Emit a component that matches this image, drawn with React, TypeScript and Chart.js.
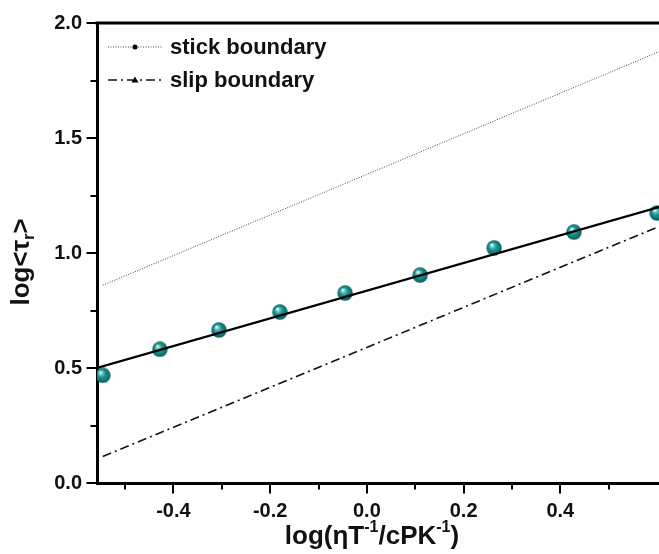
import React, { useEffect, useRef } from "react";
import { Chart, registerables } from "chart.js";

Chart.register(...registerables);

// ---- data ----
const logEtaT = [-0.546, -0.428, -0.306, -0.18, -0.045, 0.11, 0.263, 0.428, 0.6];
const logTau = [0.468, 0.581, 0.665, 0.743, 0.826, 0.904, 1.022, 1.091, 1.174];
const fitX = [-0.558, 0.604];
const fitY = [0.5, 1.2];
const stickX = [-0.546, 0.604];
const stickY = [0.86, 1.875];
const slipX = [-0.546, 0.604];
const slipY = [0.115, 1.115];
const xTicks = [-0.5, -0.4, -0.3, -0.2, -0.1, 0.0, 0.1, 0.2, 0.3, 0.4, 0.5];
const yTicks = [0, 0.25, 0.5, 0.75, 1.0, 1.25, 1.5, 1.75, 2.0];
const legendLabels = ["stick boundary", "slip boundary"];
const xMin = -0.558;
const xMax = 0.604;
const yMin = 0;
const yMax = 2.0;

const FONT = "'Liberation Sans', Arial, Helvetica, sans-serif";

function makeSphere(): HTMLCanvasElement {
  const c = document.createElement("canvas");
  const s = 16;
  c.width = s;
  c.height = s;
  const g = c.getContext("2d")!;
  const grad = g.createRadialGradient(5.5, 4.8, 0.3, 8, 8, 8);
  grad.addColorStop(0, "#f2ffff");
  grad.addColorStop(0.18, "#7fd0cf");
  grad.addColorStop(0.45, "#1f9591");
  grad.addColorStop(0.85, "#0f6d6b");
  grad.addColorStop(1, "#0b5857");
  g.fillStyle = grad;
  g.beginPath();
  g.arc(8, 8, 7.7, 0, Math.PI * 2);
  g.fill();
  return c;
}

const toPts = (xs: number[], ys: number[]) => xs.map((x, i) => ({ x, y: ys[i] }));

const decorPlugin = {
  id: "decor",
  afterDraw(chart: any) {
    const ctx = chart.ctx as CanvasRenderingContext2D;
    const ca = chart.chartArea;
    const xs = chart.scales.x;
    const ys = chart.scales.y;
    ctx.save();
    // top frame line
    ctx.strokeStyle = "#000";
    ctx.lineWidth = 3;
    ctx.beginPath();
    ctx.moveTo(ca.left - 1.5, ca.top);
    ctx.lineTo(chart.width, ca.top);
    ctx.stroke();
    // ticks (outward)
    ctx.lineWidth = 2;
    xs.ticks.forEach((t: any) => {
      const major = Math.round(t.value * 10) % 2 === 0;
      const len = major ? 9 : 5;
      const px = Math.round(xs.getPixelForValue(t.value));
      ctx.beginPath();
      ctx.moveTo(px, ca.bottom);
      ctx.lineTo(px, ca.bottom + 1.5 + len);
      ctx.stroke();
    });
    ys.ticks.forEach((t: any) => {
      const major = Math.abs(Math.round(t.value * 4) % 2) === 0;
      const len = major ? 9 : 5;
      const py = Math.round(ys.getPixelForValue(t.value));
      ctx.beginPath();
      ctx.moveTo(ca.left, py);
      ctx.lineTo(ca.left - 1.5 - len, py);
      ctx.stroke();
    });

    // axis titles with super/subscripts
    ctx.fillStyle = "#111";
    const big = `bold 26px ${FONT}`;
    const small = `bold 16px ${FONT}`;
    const drawRich = (parts: { t: string; s?: "sup" | "sub" }[], cx: number, cy: number) => {
      let total = 0;
      parts.forEach((p) => {
        ctx.font = p.s ? small : big;
        total += ctx.measureText(p.t).width;
      });
      let x = cx - total / 2;
      ctx.textBaseline = "middle";
      ctx.textAlign = "left";
      parts.forEach((p) => {
        ctx.font = p.s ? small : big;
        const dy = p.s === "sup" ? -9 : p.s === "sub" ? 8 : 0;
        ctx.fillText(p.t, x, cy + dy);
        x += ctx.measureText(p.t).width;
      });
    };
    drawRich(
      [
        { t: "log(ηT" },
        { t: "-1", s: "sup" },
        { t: "/cPK" },
        { t: "-1", s: "sup" },
        { t: ")" },
      ],
      (ca.left + ca.right) / 2 - 6,
      537
    );
    ctx.save();
    ctx.translate(22, 262);
    ctx.rotate(-Math.PI / 2);
    drawRich([{ t: "log<τ" }, { t: "r", s: "sub" }, { t: ">" }], 0, 0);
    ctx.restore();

    // legend
    const items = chart.data.datasets.filter((d: any) => d.legendMarker);
    items.forEach((d: any, i: number) => {
      const y = 47 + i * 33;
      ctx.strokeStyle = d.borderColor;
      ctx.lineWidth = d.borderWidth;
      ctx.setLineDash(d.borderDash || []);
      ctx.beginPath();
      ctx.moveTo(108, y);
      ctx.lineTo(162, y);
      ctx.stroke();
      ctx.setLineDash([]);
      ctx.fillStyle = "#000";
      ctx.beginPath();
      if (d.legendMarker === "circle") {
        ctx.arc(135, y, 2.5, 0, Math.PI * 2);
      } else {
        ctx.moveTo(135, y - 3.5);
        ctx.lineTo(138.5, y + 2.5);
        ctx.lineTo(131.5, y + 2.5);
        ctx.closePath();
      }
      ctx.fill();
      ctx.fillStyle = "#111";
      ctx.font = `bold 22px ${FONT}`;
      ctx.textAlign = "left";
      ctx.textBaseline = "middle";
      ctx.fillText(d.label, 170, y + 1);
    });
    ctx.restore();
  },
};

export default function App() {
  const ref = useRef<HTMLCanvasElement | null>(null);
  useEffect(() => {
    if (!ref.current) return;
    const sphere = makeSphere();
    const chart = new Chart(ref.current, {
      type: "scatter",
      data: {
        datasets: [
          {
            label: "fit",
            data: toPts(fitX, fitY),
            showLine: true,
            borderColor: "#000",
            borderWidth: 2.2,
            pointRadius: 0,
            order: 0,
          } as any,
          {
            label: "data",
            data: toPts(logEtaT, logTau),
            showLine: false,
            pointStyle: sphere,
            pointRadius: 8,
            order: 1,
          } as any,
          {
            label: legendLabels[0],
            data: toPts(stickX, stickY),
            showLine: true,
            borderColor: "#444",
            borderWidth: 1,
            borderDash: [1, 1.5],
            pointRadius: 0,
            legendMarker: "circle",
            order: 2,
          } as any,
          {
            label: legendLabels[1],
            data: toPts(slipX, slipY),
            showLine: true,
            borderColor: "#111",
            borderWidth: 1.6,
            borderDash: [9, 4, 2, 4],
            pointRadius: 0,
            legendMarker: "triangle",
            order: 3,
          } as any,
        ],
      },
      options: {
        responsive: false,
        animation: false,
        layout: { autoPadding: false, padding: { top: 23, left: 0, right: 0, bottom: 0 } },
        plugins: { legend: { display: false }, tooltip: { enabled: false }, title: { display: false } },
        scales: {
          x: {
            type: "linear",
            min: xMin,
            max: xMax,
            afterBuildTicks: (s: any) => {
              s.ticks = xTicks.map((v) => ({ value: v }));
            },
            afterFit: (s: any) => {
              s.height = 71;
              s.paddingLeft = 0;
              s.paddingRight = 0;
            },
            grid: { display: false, drawTicks: true, tickLength: 10 },
            border: { display: true, color: "#000", width: 3 },
            ticks: {
              autoSkip: false,
              maxRotation: 0,
              padding: 6,
              color: "#111",
              font: { family: FONT, weight: "bold", size: 20 },
              callback: (v: any) => {
                const r = Math.round(Number(v) * 10);
                if (r % 2 !== 0) return "";
                return (r / 10).toFixed(1);
              },
            },
          },
          y: {
            type: "linear",
            min: yMin,
            max: yMax,
            afterBuildTicks: (s: any) => {
              s.ticks = yTicks.map((v) => ({ value: v }));
            },
            afterFit: (s: any) => {
              s.width = 97;
              s.paddingTop = 0;
              s.paddingBottom = 0;
            },
            grid: { display: false, drawTicks: true, tickLength: 10 },
            border: { display: true, color: "#000", width: 3 },
            ticks: {
              autoSkip: false,
              padding: 5,
              color: "#111",
              font: { family: FONT, weight: "bold", size: 20 },
              callback: (v: any) => {
                const r = Math.round(Number(v) * 4);
                if (r % 2 !== 0) return "";
                return (r / 4).toFixed(1);
              },
            },
          },
        },
      } as any,
      plugins: [decorPlugin],
    });
    return () => chart.destroy();
  }, []);
  return (
    <div style={{ position: "absolute", left: 0, top: 0, width: 659, height: 554, background: "#fff" }}>
      <canvas ref={ref} width={659} height={554} style={{ display: "block" }} />
    </div>
  );
}
